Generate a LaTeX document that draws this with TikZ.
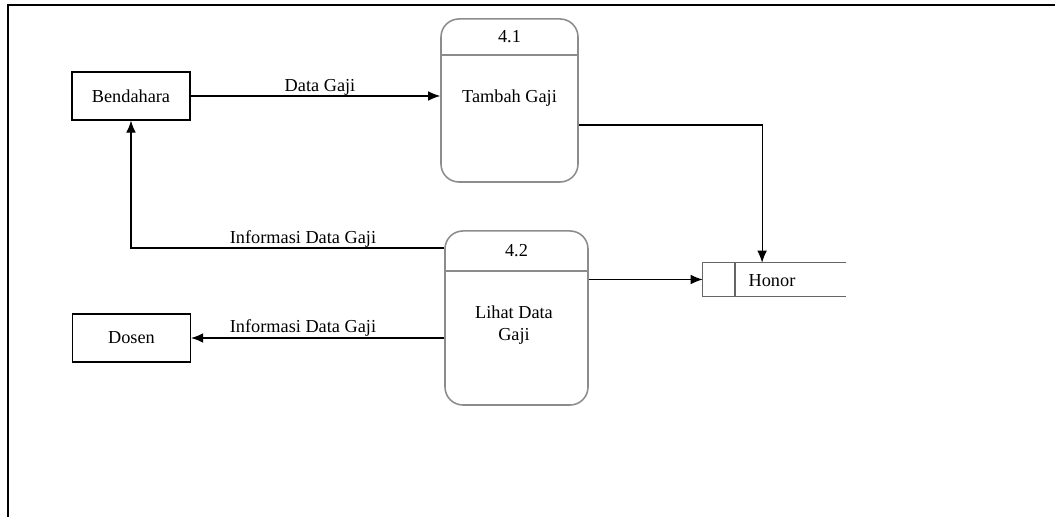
\documentclass[tikz,border=0pt]{standalone}
\usepackage{fontspec}
\newfontfamily\tnr{Liberation Serif}
\usetikzlibrary{arrows.meta}
\tikzset{
  entitas/.style={draw=black, line width=0.8pt, fill=white, minimum width=2.95cm, minimum height=1.2cm},
  proses/.style={draw=black!45, line width=1.1pt, fill=white, rounded corners=0.45cm},
  alur/.style={-{Latex[length=3mm,width=2.4mm]}, line width=0.8pt},
  label/.style={inner sep=1pt}
}
\begin{document}
\begin{tikzpicture}[x=0.025cm, y=-0.025cm, font=\tnr\fontsize{13}{15.5}\selectfont]
\useasboundingbox (0,0) rectangle (1055,517);
% bingkai
\draw[line width=0.8pt] (8,517)--(8,5)--(1055,5);
% entitas luar
\node[entitas] (bendahara) at (131,96) {Bendahara};
\node[entitas] (dosen) at (131.5,338) {Dosen};
% proses 4.1
\node[proses, minimum width=3.425cm, minimum height=4.075cm] (tambah) at (509.5,100.5) {};
\draw[black!45, line width=1.1pt] (tambah.west |- 0,55)--(tambah.east |- 0,55);
\node (no41) at (509.5,37) {4.1};
\node (tambahtxt) at (509.5,98) {Tambah Gaji};
% proses 4.2
\node[proses, minimum width=3.575cm, minimum height=4.35cm] (lihat) at (516.5,318) {};
\draw[black!45, line width=1.1pt] (lihat.west |- 0,271)--(lihat.east |- 0,271);
\node (no42) at (516.5,251) {4.2};
\node[align=center] (lihattxt) at (514,325) {Lihat Data\\Gaji};
% data store
\node[minimum width=3.575cm, minimum height=0.825cm, inner sep=0] (honor) at (774.5,279.5) {};
\draw[black!60, line width=0.9pt] (honor.north east)--(honor.north west)--(honor.south west)--(honor.south east);
\draw[black!60, line width=0.9pt] (735,263)--(735,296);
\node (honortxt) at (772,281) {Honor};
% alur data
\draw[alur] (bendahara.east)--(tambah.west |- bendahara.east);
\node[label] (l1) at (320,87) {Data Gaji};
\draw[alur] (tambah.east |- 0,125) -| ([xshift=-0.31cm]honor.north);
\draw[alur] (lihat.west |- 0,248) -| (bendahara.south);
\node[label] (l2) at (303,239) {Informasi Data Gaji};
\draw[alur] (lihat.west |- dosen.east)--(dosen.east);
\node[label] (l3) at (303,328) {Informasi Data Gaji};
\draw[alur] (lihat.east |- honor.west)--(honor.west);
\end{tikzpicture}
\end{document}
